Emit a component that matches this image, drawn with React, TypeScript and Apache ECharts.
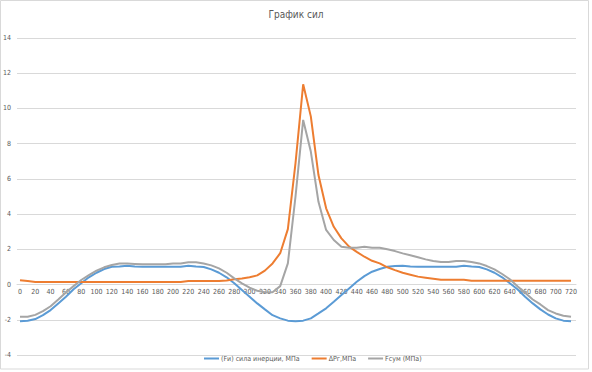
import React, { useEffect, useRef } from "react";
import * as echarts from "echarts";

const angles = [
  0, 10, 20, 30, 40, 50, 60, 70, 80, 90, 100, 110, 120, 130, 140, 150, 160, 170, 180, 190,
  200, 210, 220, 230, 240, 250, 260, 270, 280, 290, 300, 310, 320, 330, 340, 350, 360,
  370, 380, 390, 400, 410, 420, 430, 440, 450, 460, 470, 480, 490, 500, 510, 520, 530,
  540, 550, 560, 570, 580, 590, 600, 610, 620, 630, 640, 650, 660, 670, 680, 690, 700,
  710, 720,
];

const xTicks = [
  0, 20, 40, 60, 80, 100, 120, 140, 160, 180, 200, 220, 240, 260, 280, 300, 320, 340, 360,
  380, 400, 420, 440, 460, 480, 500, 520, 540, 560, 580, 600, 620, 640, 660, 680, 700, 720,
];

const inertia = [
  -2.08, -2.05, -1.96, -1.74, -1.45, -1.07, -0.69, -0.27, 0.07, 0.41, 0.67, 0.88, 1.01,
  1.03, 1.07, 1.02, 1.01, 1.01, 1.01, 1.01, 1.01, 1.01, 1.07, 1.02, 1.0, 0.86, 0.67, 0.41,
  0.07, -0.31, -0.69, -1.07, -1.41, -1.74, -1.92, -2.05, -2.08,
  -2.05, -1.92, -1.64, -1.35, -0.98, -0.6, -0.22, 0.16, 0.48, 0.73, 0.88, 1.01, 1.05, 1.07,
  1.02, 1.01, 1.01, 1.01, 1.01, 1.01, 1.01, 1.07, 1.02, 1.0, 0.86, 0.67, 0.41, 0.07, -0.27,
  -0.69, -1.07, -1.41, -1.7, -1.92, -2.05, -2.08,
];

const gasPressure = [
  0.25, 0.2, 0.15, 0.15, 0.15, 0.15, 0.15, 0.15, 0.15, 0.15, 0.15, 0.15, 0.15, 0.15, 0.15,
  0.15, 0.15, 0.15, 0.15, 0.15, 0.15, 0.15, 0.2, 0.2, 0.2, 0.2, 0.2, 0.23, 0.3, 0.35, 0.41,
  0.52, 0.79, 1.2, 1.78, 3.15, 6.9, 11.37, 9.55, 6.22, 4.33, 3.28, 2.62, 2.15, 1.86, 1.58,
  1.35, 1.2, 0.98, 0.82, 0.67, 0.56, 0.45, 0.39, 0.33, 0.27, 0.27, 0.27, 0.27, 0.22, 0.22,
  0.22, 0.22, 0.22, 0.22, 0.22, 0.22, 0.22, 0.22, 0.22, 0.22, 0.22, 0.22,
];

const totalForce = [
  -1.83, -1.83, -1.72, -1.51, -1.23, -0.85, -0.45, -0.09, 0.26, 0.54, 0.79, 0.98, 1.11,
  1.19, 1.19, 1.17, 1.15, 1.15, 1.15, 1.15, 1.2, 1.2, 1.27, 1.27, 1.2, 1.09, 0.92, 0.67,
  0.35, 0.07, -0.18, -0.35, -0.44, -0.44, -0.09, 1.2, 5.0, 9.35, 7.55, 4.7, 3.1, 2.53, 2.15,
  2.09, 2.09, 2.15, 2.09, 2.09, 2.0, 1.9, 1.77, 1.66, 1.55, 1.43, 1.34, 1.28, 1.28, 1.34,
  1.34, 1.28, 1.2, 1.05, 0.86, 0.6, 0.3, -0.09, -0.47, -0.85, -1.13, -1.45, -1.64, -1.77,
  -1.83,
];

const seriesNames = ["(Fи) сила инерции, МПа", "ΔPг,МПа", "Fсум (МПа)"];
const seriesColors = ["#5B9BD5", "#ED7D31", "#A5A5A5"];
const seriesValues = [inertia, gasPressure, totalForce];

const FONT = "'Liberation Sans Narrow', 'DejaVu Sans Condensed', 'Noto Sans', sans-serif";

const Y_MIN = -4;
const Y_MAX = 14;
const GRID_TOP = 38;
const GRID_BOTTOM = 17;
const CHART_H = 372;

export default function App() {
  const ref = useRef<HTMLDivElement>(null);

  useEffect(() => {
    if (!ref.current) return;
    const chart = echarts.init(ref.current, undefined, { renderer: "svg" });
    const plotH = CHART_H - GRID_TOP - GRID_BOTTOM;
    // distance from plot bottom to the y = 0 line
    const zeroOffset = (plotH * (0 - Y_MIN)) / (Y_MAX - Y_MIN);
    chart.setOption({
      animation: false,
      backgroundColor: "#ffffff",
      textStyle: { fontFamily: FONT },
      title: {
        text: "График сил",
        left: "center",
        top: 4,
        textStyle: {
          fontFamily: FONT,
          fontSize: 10,
          fontWeight: "normal",
          color: "#595959",
        },
      },
      legend: {
        data: seriesNames,
        bottom: 5,
        left: 199,
        icon: "rect",
        itemWidth: 15,
        itemHeight: 2,
        itemGap: 12,
        textStyle: { fontFamily: FONT, fontSize: 7, color: "#595959", padding: [0, 0, 0, -3] },
      },
      grid: { left: 17, right: 16, top: GRID_TOP, bottom: GRID_BOTTOM, containLabel: false },
      xAxis: {
        type: "value",
        min: -3.9,
        max: 726.5,
        offset: -zeroOffset,
        axisLine: { onZero: false, lineStyle: { color: "#d9d9d9", width: 1 } },
        axisTick: { show: false },
        splitLine: { show: false },
        axisLabel: {
          customValues: xTicks,
          fontFamily: FONT,
          fontSize: 7,
          color: "#595959",
          margin: 4,
        },
      },
      yAxis: {
        type: "value",
        min: Y_MIN,
        max: Y_MAX,
        interval: 2,
        axisLine: { show: false, onZero: false },
        axisTick: { show: false },
        splitLine: { lineStyle: { color: "#d9d9d9", width: 1 } },
        axisLabel: { fontFamily: FONT, fontSize: 7, color: "#595959", margin: 6 },
      },
      series: seriesNames.map((name, i) => ({
        name,
        type: "line",
        symbol: "none",
        smooth: false,
        color: seriesColors[i],
        lineStyle: { color: seriesColors[i], width: 2 },
        data: angles.map((a, j) => [a, seriesValues[i][j]]),
      })),
      graphic: [
        {
          type: "rect",
          shape: { x: 0.5, y: 0.5, width: 588, height: 368.5 },
          style: { fill: "none", stroke: "#d9d9d9", lineWidth: 1 },
          silent: true,
        },
      ],
    });
    return () => chart.dispose();
  }, []);

  return (
    <div
      ref={ref}
      style={{ position: "absolute", left: 0, top: 0, width: 592, height: 372, background: "#fff" }}
    />
  );
}
